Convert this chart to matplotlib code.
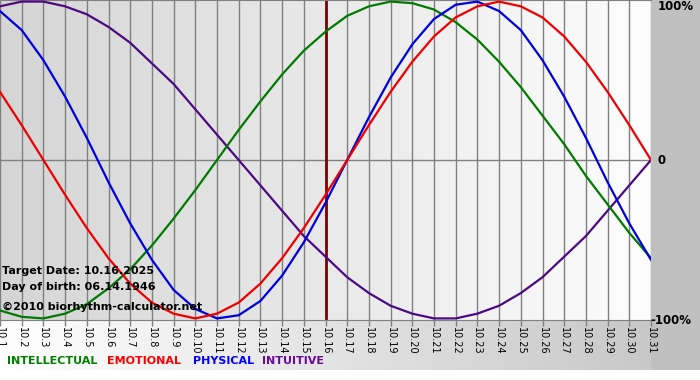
import matplotlib.pyplot as plt
import numpy as np
from matplotlib.colors import LinearSegmentedColormap

W, H = 700, 380

days = ["10.%d" % d for d in range(1, 32)]

# biorhythm values (fraction of 100%)
physical = [0.94, 0.82, 0.63, 0.40, 0.14, -0.14, -0.40, -0.63, -0.82, -0.94,
            -1.00, -0.98, -0.89, -0.73, -0.52, -0.27, 0.00, 0.27, 0.52, 0.73,
            0.89, 0.98, 1.00, 0.94, 0.82, 0.63, 0.40, 0.14, -0.14, -0.40, -0.63]
emotional = [0.43, 0.22, 0.00, -0.22, -0.43, -0.62, -0.78, -0.90, -0.97, -1.00,
             -0.97, -0.90, -0.78, -0.62, -0.43, -0.22, 0.00, 0.22, 0.43, 0.62,
             0.78, 0.90, 0.97, 1.00, 0.97, 0.90, 0.78, 0.62, 0.43, 0.22, 0.00]
intellectual = [-0.95, -0.99, -1.00, -0.97, -0.91, -0.81, -0.69, -0.54, -0.37, -0.19,
                0.00, 0.19, 0.37, 0.54, 0.69, 0.81, 0.91, 0.97, 1.00, 0.99,
                0.95, 0.87, 0.76, 0.62, 0.46, 0.28, 0.10, -0.10, -0.28, -0.46, -0.62]
intuitive = [0.97, 1.00, 1.00, 0.97, 0.92, 0.84, 0.74, 0.61, 0.48, 0.32,
             0.16, 0.00, -0.16, -0.32, -0.48, -0.61, -0.74, -0.84, -0.92, -0.97,
             -1.00, -1.00, -0.97, -0.92, -0.84, -0.74, -0.61, -0.48, -0.32, -0.16, 0.00]
target_idx = 15  # 10.16

series = [("INTELLECTUAL", intellectual, "#007a00"),
          ("EMOTIONAL", emotional, "#ee0000"),
          ("PHYSICAL", physical, "#0000dd"),
          ("INTUITIVE", intuitive, "#4b0a82")]
legend_colors = ["#008000", "#ff0000", "#0000ff", "#6a0a9a"]

fig = plt.figure(figsize=(W / 100, H / 100), dpi=100)
fig.patch.set_facecolor("white")

# background: grey right panel + gradient bottom strip
bg = fig.add_axes([0, 0, 1, 1], zorder=0)
bg.set_xlim(0, W)
bg.set_ylim(H, 0)
bg.axis("off")
bg.add_patch(plt.Rectangle((651, 0), 49, 370, color="#c0c0c0", lw=0))
strip = LinearSegmentedColormap.from_list("strip", ["#ffffff", "#c4c4c4"])
bg.imshow(np.linspace(0, 1, 256)[None, :], cmap=strip, aspect="auto",
          extent=[0, W, 370, 320], zorder=0)

# main plot
ax = fig.add_axes([0, 60 / H, 651 / W, 320 / H], zorder=1)
x = np.arange(len(days))
ax.set_xlim(0, len(days) - 1)
ax.set_ylim(-1.01, 1.01)
shade = LinearSegmentedColormap.from_list("shade", ["#d5d5d5", "#fdfdfd"])
ax.imshow(np.linspace(0, 1, 256)[None, :], cmap=shade, aspect="auto",
          extent=[0, len(days) - 1, -1.01, 1.01], zorder=0)

for xi in x:
    ax.axvline(xi, color="#808080", lw=1, zorder=1)
ax.axhline(0, color="#808080", lw=1, zorder=1)
ax.axvline(target_idx, color="#800000", lw=2, zorder=2)

for name, vals, col in [series[3], series[0], series[2], series[1]]:
    ax.plot(x, vals, color=col, lw=1.6, zorder=3, solid_joinstyle="round")

for s in ax.spines.values():
    s.set_color("#808080")
ax.spines["right"].set_visible(False)
ax.spines["left"].set_visible(False)
ax.set_yticks([])
ax.set_xticks(x)
ax.set_xticklabels(days, rotation=270, fontsize=7, family="DejaVu Sans")
ax.tick_params(axis="x", length=4, width=1, color="#808080", pad=1)

# info text
info = [("Target Date: 10.16.2025", 271), ("Day of birth: 06.14.1946", 287),
        ("\u00a92010 biorhythm-calculator.net", 307)]
for t, yy in info:
    fig.text(2 / W, 1 - yy / H, t, fontsize=8, fontweight="bold",
             va="center", ha="left", zorder=5)

# right-side labels
fig.text(658 / W, 1 - 7 / H, "100%", fontsize=8.5, fontweight="bold", va="center", zorder=5)
fig.text(658 / W, 1 - 161 / H, "0", fontsize=8.5, fontweight="bold", va="center", zorder=5)
fig.text(650 / W, 1 - 321 / H, "-100%", fontsize=8.5, fontweight="bold", va="center", zorder=5)

# legend
for (name, _, _), col, xx in zip(series, legend_colors, [7, 107, 193, 262]):
    fig.text(xx / W, 1 - 361 / H, name, color=col, fontsize=8, fontweight="bold",
             va="center", ha="left", zorder=5)

fig.savefig("out.png", dpi=100)
